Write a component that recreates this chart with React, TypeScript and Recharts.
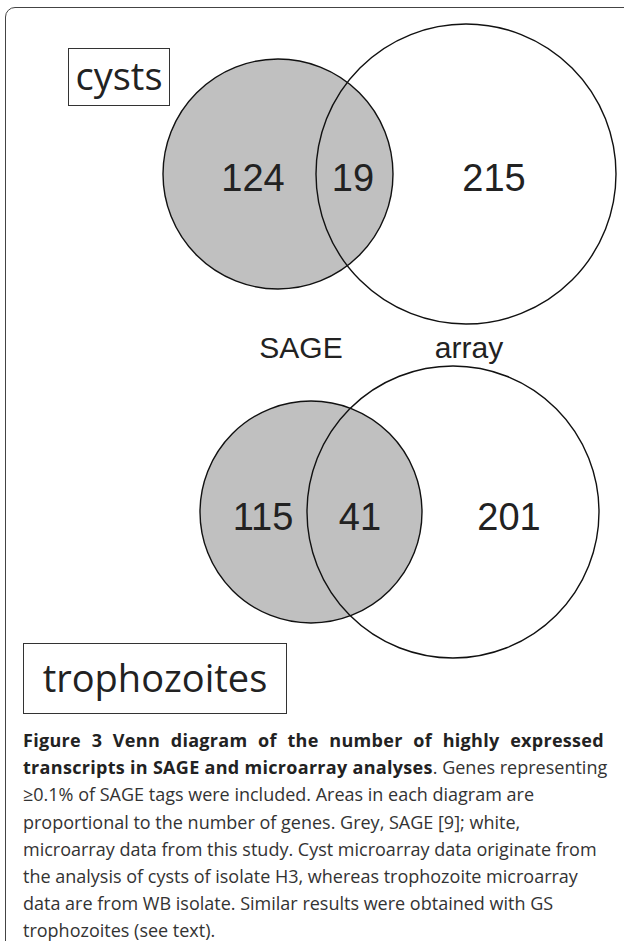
import React from 'react';
import { ScatterChart, Scatter, XAxis, YAxis, ReferenceArea } from 'recharts';

// one entry per diagram: top = cysts, bottom = trophozoites
const panels = ['cysts', 'trophozoites'];
const sageOnly = [124, 115];
const shared = [19, 41];
const arrayOnly = [215, 201];
const setNames = ['SAGE', 'array'];

// circle geometry in diagram units (centre x, centre y, radius)
const sageCx = [278, 311];
const sageCy = [174, 512];
const sageR = [115, 111];
const arrayCx = [466, 453];
const arrayCy = [174, 512];
const arrayR = [150, 146];

// where the counts sit (diagram units, y = text baseline)
const sageOnlyX = [253, 263];
const sharedX = [353, 360];
const arrayOnlyX = [494, 509];
const countY = [191, 530];
const nameX = [301, 469];
const nameY = 358;

const captionBold = [
  'Figure 3 Venn diagram of the number of highly expressed',
  'transcripts in SAGE and microarray analyses',
];
const captionLines = [
  '. Genes representing',
  '\u22650.1% of SAGE tags were included. Areas in each diagram are',
  'proportional to the number of genes. Grey, SAGE [9]; white,',
  'microarray data from this study. Cyst microarray data originate from',
  'the analysis of cysts of isolate H3, whereas trophozoite microarray',
  'data are from WB isolate. Similar results were obtained with GS',
  'trophozoites (see text).',
];

const countPoints = panels.flatMap((_, i) => [
  { x: sageOnlyX[i], y: countY[i], text: String(sageOnly[i]) },
  { x: sharedX[i], y: countY[i], text: String(shared[i]) },
  { x: arrayOnlyX[i], y: countY[i], text: String(arrayOnly[i]) },
]);
const namePoints = setNames.map((n, i) => ({ x: nameX[i], y: nameY, text: n }));

const ellipse = (fill: string) => (p: any) => (
  <ellipse
    cx={p.x + p.width / 2}
    cy={p.y + p.height / 2}
    rx={p.width / 2}
    ry={p.height / 2}
    fill={fill}
    stroke="#111"
    strokeWidth={1.4}
  />
);

const textShape = (size: number) => (p: any) => (
  <text
    x={p.cx}
    y={p.cy}
    textAnchor="middle"
    fontFamily="'Liberation Sans', Arial, sans-serif"
    fontSize={size}
    fill="#222"
  >
    {p.payload.text}
  </text>
);

const boldStyle = { fontWeight: 700, color: '#222', letterSpacing: 0.3 };

export default function App() {
  return (
    <div style={{ position: 'absolute', left: 0, top: 0, width: 624, height: 941, overflow: 'hidden', background: '#fff' }}>
      <div
        style={{
          position: 'absolute',
          left: 5,
          top: 7,
          width: 660,
          height: 980,
          border: '1.5px solid #444',
          borderRadius: 10,
        }}
      />
      <div style={{ position: 'absolute', left: 0, top: 0 }}>
        <ScatterChart width={624} height={720} margin={{ top: 0, right: 0, bottom: 0, left: 0 }}>
          <XAxis type="number" dataKey="x" domain={[0, 624]} hide />
          <YAxis type="number" dataKey="y" domain={[0, 720]} reversed hide />
          {panels.map((p, i) => (
            <ReferenceArea
              key={'s' + p}
              x1={sageCx[i] - sageR[i]}
              x2={sageCx[i] + sageR[i]}
              y1={sageCy[i] - sageR[i]}
              y2={sageCy[i] + sageR[i]}
              ifOverflow="visible"
              shape={ellipse('#c0c0c0')}
            />
          ))}
          {panels.map((p, i) => (
            <ReferenceArea
              key={'a' + p}
              x1={arrayCx[i] - arrayR[i]}
              x2={arrayCx[i] + arrayR[i]}
              y1={arrayCy[i] - arrayR[i]}
              y2={arrayCy[i] + arrayR[i]}
              ifOverflow="visible"
              shape={ellipse('none')}
            />
          ))}
          <Scatter data={countPoints} shape={textShape(38)} isAnimationActive={false} />
          <Scatter data={namePoints} shape={textShape(30)} isAnimationActive={false} />
        </ScatterChart>
      </div>
      <div
        style={{
          position: 'absolute',
          left: 68,
          top: 48,
          width: 100,
          height: 56,
          border: '1px solid #333',
          fontFamily: "'Open Sans', sans-serif",
          fontSize: 38,
          lineHeight: '52px',
          color: '#222',
          textAlign: 'center',
        }}
      >
        {panels[0]}
      </div>
      <div
        style={{
          position: 'absolute',
          left: 23,
          top: 643,
          width: 262,
          height: 69,
          border: '1px solid #333',
          fontFamily: "'Open Sans', sans-serif",
          fontSize: 38,
          lineHeight: '66px',
          color: '#222',
          textAlign: 'center',
        }}
      >
        {panels[1]}
      </div>
      <div
        style={{
          position: 'absolute',
          left: 23,
          top: 727,
          fontFamily: "'Open Sans', sans-serif",
          fontSize: 18,
          lineHeight: '27.2px',
          color: '#333',
        }}
      >
        <div style={{ ...boldStyle, width: 581, textAlign: 'justify', textAlignLast: 'justify' }}>
          {captionBold[0]}
        </div>
        <div style={{ whiteSpace: 'nowrap' }}>
          <span style={boldStyle}>{captionBold[1]}</span>
          {captionLines[0]}
        </div>
        {captionLines.slice(1).map((l) => (
          <div key={l} style={{ whiteSpace: 'nowrap' }}>
            {l}
          </div>
        ))}
      </div>
    </div>
  );
}
